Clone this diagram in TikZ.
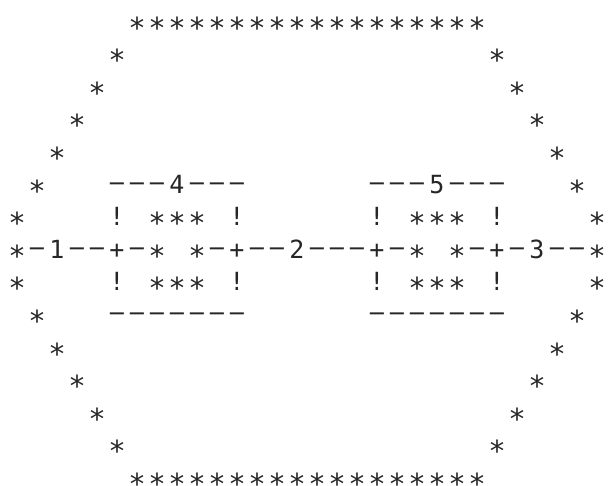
\documentclass[tikz,border=0pt]{standalone}
\usepackage{fontspec}
\newfontfamily\dotfont{DejaVu Sans Mono}
\newfontfamily\dashfont{Liberation Sans}
\definecolor{ink}{gray}{0.15}
\tikzset{
  glyph/.style={inner sep=0pt, outer sep=0pt, anchor=center, text=ink,
    font=\dotfont\fontsize{25}{25}\selectfont},
  starglyph/.style={glyph, font=\dotfont\fontsize{29}{29}\selectfont},
  dashglyph/.style={glyph, font=\dashfont\fontsize{25}{25}\selectfont},
}
% stars on a row (glyph centred on the row line)
\newcommand\putstars[2]{%
  \foreach \c in {#2}{%
    \node[starglyph] (s-#1-\c) at ({17+20*\c},{21+32.6*#1})
      {\raisebox{-0.587em}[0.19em][0.19em]{*}};}}
% dashes on a row
\newcommand\putdashes[2]{%
  \foreach \c in {#2}{%
    \node[dashglyph] (d-#1-\c) at ({17+20*\c},{21+32.6*#1})
      {\raisebox{-0.245em}[0.06em][0.06em]{\scalebox{2.3}[1]{-}}};}}
% other characters: col/char
\newcommand\putchars[2]{%
  \foreach \c/\t in {#2}{%
    \node[glyph] (g-#1-\c) at ({17+20*\c},{21+32.6*#1})
      {\raisebox{-0.365em}[0.37em][0.37em]{\t}};}}
\begin{document}
\begin{tikzpicture}[x=1pt,y=-1pt]
  \fill[white] (0,0) rectangle (608,486);
  \useasboundingbox (0,0) rectangle (608,486);
  % outer ring
  \putstars{0}{6,...,23}
  \putstars{1}{5,24}
  \putstars{2}{4,25}
  \putstars{3}{3,26}
  \putstars{4}{2,27}
  \putstars{5}{1,28}
  \putstars{6}{0,29}
  \putstars{7}{0,29}
  \putstars{8}{0,29}
  \putstars{9}{1,28}
  \putstars{10}{2,27}
  \putstars{11}{3,26}
  \putstars{12}{4,25}
  \putstars{13}{5,24}
  \putstars{14}{6,...,23}
  % box tops
  \putdashes{5}{5,6,7,9,10,11,18,19,20,22,23,24}
  \putchars{5}{8/4,21/5}
  % upper box sides
  \putchars{6}{5/!,11/!,18/!,24/!}
  \putstars{6}{7,8,9,20,21,22}
  % main line
  \putstars{7}{7,9,20,22}
  \putdashes{7}{1,3,4,6,10,12,13,15,16,17,19,23,25,27,28}
  \putchars{7}{5/+,11/+,18/+,24/+,2/1,14/2,26/3}
  % lower box sides
  \putchars{8}{5/!,11/!,18/!,24/!}
  \putstars{8}{7,8,9,20,21,22}
  % box bottoms
  \putdashes{9}{5,6,7,8,9,10,11,18,19,20,21,22,23,24}
\end{tikzpicture}
\end{document}
